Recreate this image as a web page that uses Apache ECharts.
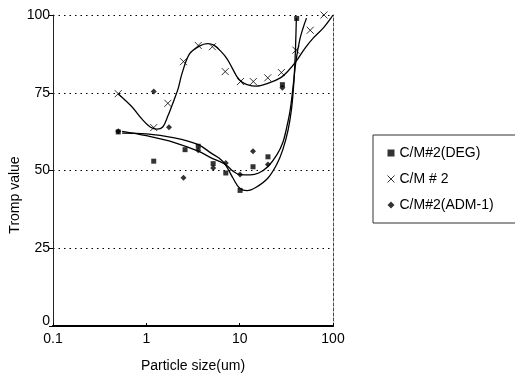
<!DOCTYPE html>
<html><head><meta charset="utf-8">
<script src="https://cdn.jsdelivr.net/npm/echarts@6/dist/echarts.min.js"></script>
<style>html,body{margin:0;padding:0;background:#fff}#c{width:515px;height:378px}</style>
</head><body><div id="c"></div>
<script>
// ---- data ----
const seriesNames = ['C/M#2(DEG)', 'C/M # 2', 'C/M#2(ADM-1)'];
const xTicks = [0.1, 1, 10, 100];
const yTicks = [0, 25, 50, 75, 100];

// measured points
const degX = [0.5, 1.2, 2.6, 3.6, 5.2, 7.1, 10.1, 13.9, 20.1, 28.7, 40.8];
const degY = [62.4, 53.0, 56.7, 57.8, 52.2, 49.2, 43.6, 51.2, 54.4, 77.6, 98.9];
const cmX  = [0.5, 1.2, 1.7, 2.5, 3.6, 5.1, 7.0, 10.2, 14.0, 20.0, 28.0, 40.0, 57.0, 80.0];
const cmY  = [74.7, 63.8, 71.6, 85.0, 90.2, 89.8, 81.8, 78.6, 78.6, 79.8, 81.5, 88.7, 95.1, 100.0];
const admX = [0.5, 1.2, 1.75, 2.5, 3.6, 5.2, 7.1, 10.1, 13.9, 20.1, 28.7];
const admY = [62.6, 75.4, 63.9, 47.7, 56.5, 50.8, 52.4, 48.7, 56.2, 51.9, 76.6];

// fitted curves (traced)
const degCurveX = [0.55, 1.0, 2.0, 3.6, 5.0, 6.0, 7.0, 8.5, 10.0, 12.0, 15.0, 20.0, 25.0, 29.0, 33.0, 36.0, 38.0, 39.5, 40.5];
const degCurveY = [62.0, 61.8, 60.5, 58.3, 55.5, 54.0, 52.0, 47.5, 44.3, 43.5, 44.6, 47.5, 52.0, 56.7, 63.0, 70.0, 78.0, 88.0, 99.0];
const cmCurveX  = [0.5, 0.7, 0.9, 1.1, 1.3, 1.5, 1.7, 2.0, 2.2, 2.4, 2.9, 3.7, 4.5, 5.3, 6.3, 7.3, 8.3, 9.3, 10.5, 12.0, 15.0, 20.0, 27.0, 33.0, 40.0, 50.0, 61.0, 78.0, 95.0, 100.0];
const cmCurveY  = [74.6, 70.5, 66.5, 64.0, 63.3, 64.0, 67.5, 73.0, 76.5, 81.0, 87.5, 90.0, 90.8, 90.3, 88.3, 86.0, 83.0, 80.3, 78.5, 77.6, 77.1, 78.0, 79.7, 82.0, 85.0, 89.3, 92.5, 95.7, 99.0, 100.0];
const admCurveX = [0.55, 1.0, 2.0, 3.6, 5.0, 7.0, 8.5, 10.0, 13.0, 16.0, 20.0, 25.0, 29.0, 32.0, 35.0, 38.0, 40.0, 44.0, 48.0, 52.0];
const admCurveY = [62.6, 61.2, 59.0, 56.2, 54.0, 52.0, 49.8, 48.7, 48.6, 49.2, 51.2, 55.0, 59.0, 64.0, 70.0, 79.0, 85.0, 92.0, 96.0, 99.0];

const zip = (xs, ys) => xs.map((x, i) => [x, ys[i]]);
const XPATH = 'path://M0,0L10,10M10,0L0,10';
const FONT = 'Liberation Sans, Arial, sans-serif';

const chart = echarts.init(document.getElementById('c'), null, {renderer: 'canvas'});
const curveStyle = {color: '#000', width: 1.3};
chart.setOption({
  animation: false,
  backgroundColor: '#fff',
  grid: {left: 53, right: 182, top: 15, bottom: 51},
  xAxis: [{
    type: 'log', logBase: 10, min: xTicks[0], max: xTicks[xTicks.length - 1],
    axisLine: {show: true, lineStyle: {color: '#000', width: 1.5}},
    axisTick: {show: true, inside: true, length: 3, lineStyle: {color: '#000'}},
    axisLabel: {color: '#000', fontSize: 14, fontFamily: FONT, margin: 6,
      formatter: v => xTicks.includes(+v) ? String(v) : ''},
    splitLine: {show: false},
    minorTick: {show: false},
    name: 'Particle size(um)', nameLocation: 'middle', nameGap: 33,
    nameTextStyle: {color: '#000', fontSize: 14, fontFamily: FONT}
  }, {
    type: 'log', logBase: 10, min: xTicks[0], max: xTicks[xTicks.length - 1], position: 'top',
    axisLine: {show: true, lineStyle: {color: '#000', width: 2}},
    axisTick: {show: false}, axisLabel: {show: false}, splitLine: {show: false}
  }],
  yAxis: [{
    type: 'value', min: yTicks[0], max: yTicks[yTicks.length - 1], interval: 25,
    axisLine: {show: true, lineStyle: {color: '#222', width: 1}},
    axisTick: {show: true, inside: false, length: 4, lineStyle: {color: '#000'}},
    axisLabel: {color: '#000', fontSize: 14, fontFamily: FONT, margin: 3,
      formatter: v => v === 0 ? '{z|0}' : String(v),
      rich: {z: {fontSize: 14, fontFamily: FONT, color: '#000', padding: [0, 0, 10, 0]}}},
    splitLine: {show: true, lineStyle: {color: '#000', width: 1, type: [1.5, 4]}}
  }, {
    type: 'value', min: yTicks[0], max: yTicks[yTicks.length - 1], interval: 25, position: 'right',
    axisLine: {show: true, lineStyle: {color: '#444', width: 1, type: [3, 2]}},
    axisTick: {show: false}, axisLabel: {show: false}, splitLine: {show: false}
  }],
  legend: {
    orient: 'vertical', left: 373, top: 135,
    padding: [11, 40, 11, 12], itemGap: 11,
    itemWidth: 7, itemHeight: 7, itemGap: 12,
    borderColor: '#333', borderWidth: 1,
    textStyle: {color: '#000', fontSize: 14, fontFamily: FONT, padding: [0, 0, 0, 0]},
    data: [
      {name: seriesNames[0], icon: 'rect', itemStyle: {color: '#000'}},
      {name: seriesNames[1], icon: XPATH, itemStyle: {color: 'none', borderColor: '#000', borderWidth: 1}},
      {name: seriesNames[2], icon: 'diamond', itemStyle: {color: '#000'}}
    ]
  },
  graphic: [{
    type: 'text', x: 15, y: 195, rotation: Math.PI / 2,
    style: {text: 'Tromp value', fill: '#000', fontSize: 14, fontFamily: FONT,
      textAlign: 'center', textVerticalAlign: 'middle'}
  }],
  series: [
    {name: seriesNames[0], type: 'scatter', data: zip(degX, degY), symbol: 'rect', symbolSize: 5,
      itemStyle: {color: '#000'}, z: 5},
    {name: seriesNames[1], type: 'scatter', data: zip(cmX, cmY), symbol: XPATH, symbolSize: 7,
      itemStyle: {color: 'none', borderColor: '#000', borderWidth: 1}, z: 5},
    {name: seriesNames[2], type: 'scatter', data: zip(admX, admY), symbol: 'diamond', symbolSize: 6,
      itemStyle: {color: '#000'}, z: 5},
    {name: 'fit-deg', type: 'line', data: zip(degCurveX, degCurveY), smooth: 0.35, showSymbol: false,
      lineStyle: curveStyle, z: 4},
    {name: 'fit-cm', type: 'line', data: zip(cmCurveX, cmCurveY), smooth: 0.35, showSymbol: false,
      lineStyle: curveStyle, z: 4},
    {name: 'fit-adm', type: 'line', data: zip(admCurveX, admCurveY), smooth: 0.35, showSymbol: false,
      lineStyle: curveStyle, z: 4}
  ]
});
</script></body></html>
